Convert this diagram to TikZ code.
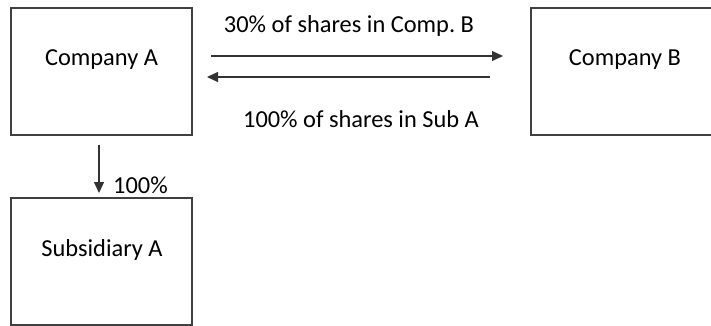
\documentclass[tikz,border=0pt]{standalone}
\usepackage{fontspec}
\setmainfont{Carlito}
\usetikzlibrary{arrows.meta}
\begin{document}
\begin{tikzpicture}[x=1pt,y=-1pt,
  box/.style={draw=black!75,line width=1.2pt,rectangle,inner sep=0pt,outer sep=0pt,minimum width=181pt,minimum height=127pt},
  lbl/.style={inner sep=0pt,anchor=base,font=\fontsize{24.4}{29}\selectfont,text=black},
  arr/.style={draw=black!80,line width=1.1pt,-{Triangle[length=11pt,width=10pt]}}]
\useasboundingbox (0,0) rectangle (711,326);
\node[box] (A) at (101.5,71.5) {};
\node[box,minimum width=185pt] (B) at (623.5,71.5) {};
\node[box] (S) at (101.5,261.5) {};
\node[lbl] (tA) at (101.5,65.7) {Company A};
\node[lbl] (tB) at (625,65.7) {Company B};
\node[lbl] (tS) at (102,256) {Subsidiary A};
\node[lbl] (t1) at (349,33) {30\% of shares in Comp.\ B};
\node[lbl] (t2) at (361,128) {100\% of shares in Sub A};
\node[lbl,anchor=base west] (t3) at (113,193) {100\%};
\draw[arr] ([xshift=19pt,yshift=15.5pt]A.east) -- ([xshift=-28pt,yshift=15.5pt]B.west);
\draw[arr] ([xshift=-41pt,yshift=-5.5pt]B.west) -- ([xshift=15pt,yshift=-5.5pt]A.east);
\draw[arr] ([xshift=-2.5pt,yshift=-10pt]A.south) -- ([xshift=-2.5pt,yshift=5pt]S.north);
\end{tikzpicture}
\end{document}
